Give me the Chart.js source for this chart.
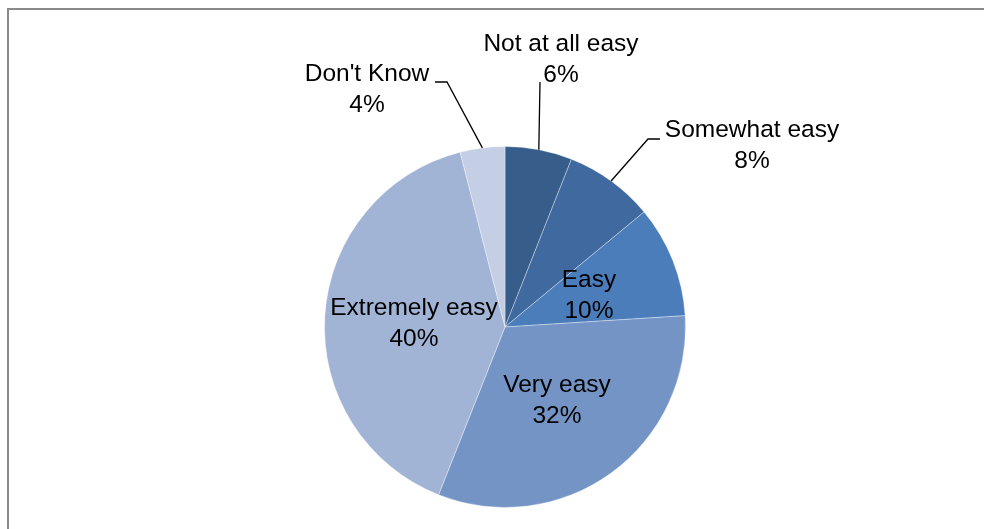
<!DOCTYPE html>
<html>
<head>
<meta charset="utf-8">
<script src="https://cdn.jsdelivr.net/npm/chart.js@4/dist/chart.umd.min.js"></script>
<style>
  html, body { margin: 0; padding: 0; background: #fff; }
  #wrap { width: 984px; height: 529px; }
</style>
</head>
<body>
<div id="wrap"><canvas id="pieChart" width="984" height="529"></canvas></div>
<script>
    var categories = ['Not at all easy', 'Somewhat easy', 'Easy', 'Very easy', 'Extremely easy', "Don't Know"];
    var percents = [6, 8, 10, 32, 40, 4];
    var sliceColors = ['#375D8B', '#4069A0', '#4A7DBA', '#7494C6', '#A2B4D5', '#C4CEE4'];

    // label placement, offsets from pie centre; leader = elbow point for outside labels
    var labelSpots = [
        { dx: 56, dy: -283, leader: [[35, -245]] },
        { dx: 247, dy: -197, leader: [[155, -188], [143, -188]] },
        { dx: 84, dy: -47 },
        { dx: 52, dy: 58 },
        { dx: -91, dy: -19 },
        { dx: -138, dy: -253, leader: [[-70, -245], [-58, -245]] }
    ];

    var frameAndLabels = {
        id: 'frameAndLabels',
        beforeDraw(chart) {
            var c = chart.ctx;
            c.save();
            c.strokeStyle = '#8a8a8a';
            c.lineWidth = 2;
            c.beginPath();
            c.moveTo(8, 540);
            c.lineTo(8, 9);
            c.lineTo(990, 9);
            c.stroke();
            c.restore();
        },
        afterDatasetsDraw(chart) {
            var c = chart.ctx;
            var arcs = chart.getDatasetMeta(0).data;
            c.save();
            c.font = '24.5px "Liberation Sans", Arial, sans-serif';
            c.fillStyle = '#000';
            c.textAlign = 'center';
            c.textBaseline = 'middle';
            arcs.forEach(function (arc, i) {
                var p = arc.getProps(['x', 'y', 'startAngle', 'endAngle', 'outerRadius'], true);
                var spot = labelSpots[i];
                if (spot.leader) {
                    var mid = (p.startAngle + p.endAngle) / 2;
                    var ex = p.x + Math.cos(mid) * p.outerRadius;
                    var ey = p.y + Math.sin(mid) * p.outerRadius;
                    c.strokeStyle = '#000';
                    c.lineWidth = 1.3;
                    c.beginPath();
                    spot.leader.forEach(function (pt, k) {
                        if (k === 0) c.moveTo(p.x + pt[0], p.y + pt[1]);
                        else c.lineTo(p.x + pt[0], p.y + pt[1]);
                    });
                    c.lineTo(ex, ey);
                    c.stroke();
                }
                var tx = p.x + spot.dx, ty = p.y + spot.dy;
                c.fillText(categories[i], tx, ty);
                c.fillText(percents[i] + '%', tx, ty + 31);
            });
            c.restore();
        }
    };

    var ctx = document.getElementById('pieChart').getContext('2d');
    var pieChart = new Chart(ctx, {
        type: 'pie',
        data: {
            labels: categories,
            datasets: [{
                data: percents,
                backgroundColor: sliceColors,
                borderColor: 'rgba(255,255,255,0.35)',
                borderWidth: 1
            }]
        },
        options: {
            responsive: false,
            animation: false,
            layout: { padding: { top: 146, bottom: 21, left: 324, right: 298 } },
            plugins: {
                legend: { display: false },
                tooltip: { enabled: false }
            }
        },
        plugins: [frameAndLabels]
    });
</script>
</body>
</html>
